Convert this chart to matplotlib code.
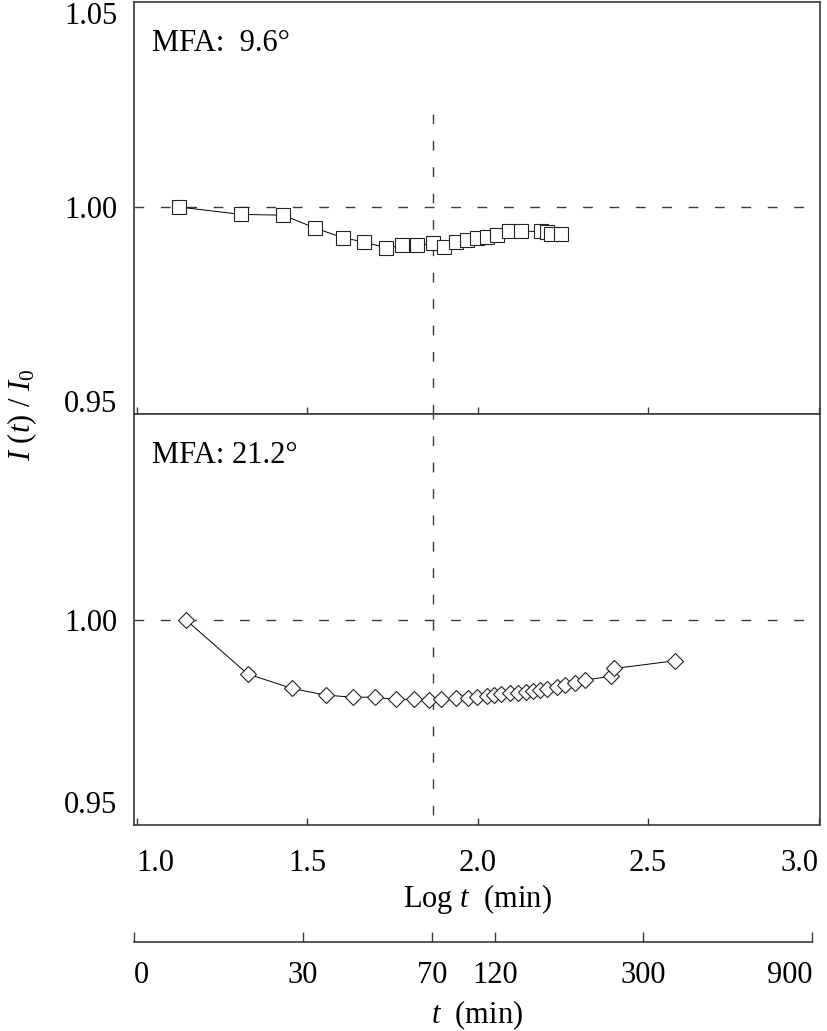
import matplotlib

matplotlib.use("Agg")
import matplotlib.pyplot as plt


# values (x is log10 of t in minutes)
LOG_T_TOP = [1.125, 1.306, 1.430, 1.523, 1.604, 1.667, 1.731, 1.779, 1.823, 1.870, 1.902,
             1.935, 1.969, 1.999, 2.026, 2.057, 2.092, 2.127, 2.185, 2.202, 2.214, 2.244]
RATIO_TOP = [1.0000, 0.9981, 0.9979, 0.9946, 0.9921, 0.9910, 0.9895, 0.9901, 0.9901, 0.9907, 0.9897,
             0.9910, 0.9914, 0.9919, 0.9923, 0.9927, 0.9938, 0.9938, 0.9937, 0.9936, 0.9931, 0.9931]

LOG_T_BOTTOM = [1.145, 1.325, 1.456, 1.554, 1.633, 1.698, 1.760, 1.812, 1.858, 1.891, 1.937,
                1.971, 1.999, 2.026, 2.048, 2.068, 2.095, 2.117, 2.141, 2.163, 2.183, 2.202,
                2.233, 2.255, 2.284, 2.316, 2.392, 2.401, 2.578]
RATIO_BOTTOM = [1.0000, 0.9852, 0.9812, 0.9794, 0.9788, 0.9788, 0.9782, 0.9782, 0.9780, 0.9782, 0.9785,
                0.9785, 0.9788, 0.9791, 0.9794, 0.9797, 0.9799, 0.9800, 0.9803, 0.9805, 0.9808, 0.9810,
                0.9817, 0.9821, 0.9826, 0.9835, 0.9846, 0.9867, 0.9888]

PANEL_LABELS = ["MFA:  9.6\u00b0", "MFA: 21.2\u00b0"]
LOG_T_TICKS = [1.0, 1.5, 2.0, 2.5, 3.0]
LOG_T_TICK_LABELS = ["1.0", "1.5", "2.0", "2.5", "3.0"]
T_TICK_LABELS = ["0", "30", "70", "120", "300", "900"]
T_TICK_POS = [0.993, 1.487, 1.866, 2.050, 2.486, 2.982]
REFERENCE_RATIO = 1.00
VLINE_LOG_T = 1.869

plt.rcParams["font.family"] = ["Liberation Serif", "DejaVu Serif"]
plt.rcParams["mathtext.fontset"] = "custom"
plt.rcParams["mathtext.rm"] = "Liberation Serif"
plt.rcParams["mathtext.it"] = "Liberation Serif:italic"
plt.rcParams["lines.scale_dashes"] = False

FS = 22
EDGE = "#3a3a3a"
DASH = (0, (7, 12))
W_PX, H_PX = 827, 1031


def frac_y(px):
    return 1 - px / H_PX


fig = plt.figure(figsize=(W_PX / 100, H_PX / 100), dpi=100)
left, width = 134 / W_PX, 686 / W_PX
ax_top = fig.add_axes([left, frac_y(414), width, 412 / H_PX])
ax_bot = fig.add_axes([left, frac_y(825), width, 411 / H_PX], sharex=ax_top)

ax_top.plot(LOG_T_TOP, RATIO_TOP, color="black", lw=0.7, marker="s", ms=9.4,
            mfc="white", mec="#222222", mew=0.8, zorder=3)
ax_bot.plot(LOG_T_BOTTOM, RATIO_BOTTOM, color="black", lw=0.7, marker="D", ms=8.3,
            mfc="white", mec="#222222", mew=0.8, zorder=3)

ax_top.set_ylim(0.9467, 1.0528)
ax_bot.set_ylim(0.9437, 1.0566)
ax_top.set_xlim(0.992, 3.004)

for ax, label in zip((ax_top, ax_bot), PANEL_LABELS):
    ax.axhline(REFERENCE_RATIO, color=EDGE, lw=1.0, linestyle=DASH, zorder=1)
    ax.text(0.026, 0.90, label, transform=ax.transAxes, fontsize=FS, ha="left", va="center")
    for spine in ax.spines.values():
        spine.set_color(EDGE)
        spine.set_linewidth(1.2)
    ax.tick_params(axis="y", length=0, pad=12, labelsize=FS)
    ax.tick_params(axis="x", direction="in", length=5, width=1.0, color=EDGE, labelsize=FS)

ax_top.axvline(VLINE_LOG_T, ymin=0, ymax=(414 - 103) / 412, color=EDGE, lw=1.0, linestyle=DASH)
ax_bot.axvline(VLINE_LOG_T, ymin=(825 - 815) / 411, ymax=1, color=EDGE, lw=1.0, linestyle=DASH)

ax_top.set_yticks([0.95, 1.00, 1.05], labels=["0.95", "1.00", "1.05"])
ax_bot.set_yticks([0.95, 1.00], labels=["0.95", "1.00"])
ax_top.tick_params(axis="x", labelbottom=False)

ax_bot.set_xticks(LOG_T_TICKS, labels=LOG_T_TICK_LABELS)
ax_bot.tick_params(axis="x", pad=17)
tick_labels = ax_bot.get_xticklabels()
tick_labels[0].set_ha("left")
tick_labels[-1].set_ha("right")
ax_bot.set_xlabel("Log $t$  (min)", fontsize=FS, labelpad=3)

fig.text(0.027, frac_y(415), "$I$ ($t$) / $I_0$", rotation=90, fontsize=FS,
         ha="center", va="center")

# second scale in plain minutes under the log axis
ax_t = fig.add_axes([left, frac_y(942), width, 0.001])
ax_t.set_xlim(ax_top.get_xlim())
ax_t.patch.set_visible(False)
for name in ("top", "left", "right"):
    ax_t.spines[name].set_visible(False)
ax_t.spines["bottom"].set_color(EDGE)
ax_t.spines["bottom"].set_linewidth(1.2)
ax_t.spines["bottom"].set_bounds(T_TICK_POS[0], T_TICK_POS[-1])
ax_t.set_yticks([])
ax_t.set_xticks(T_TICK_POS, labels=T_TICK_LABELS)
ax_t.tick_params(axis="x", direction="in", length=7, width=1.0, color=EDGE, labelsize=FS, pad=14)
t_labels = ax_t.get_xticklabels()
t_labels[0].set_ha("left")
t_labels[-1].set_ha("right")
ax_t.set_xlabel("$t$  (min)", fontsize=FS, labelpad=6)

fig.savefig("out.png", dpi=100)
